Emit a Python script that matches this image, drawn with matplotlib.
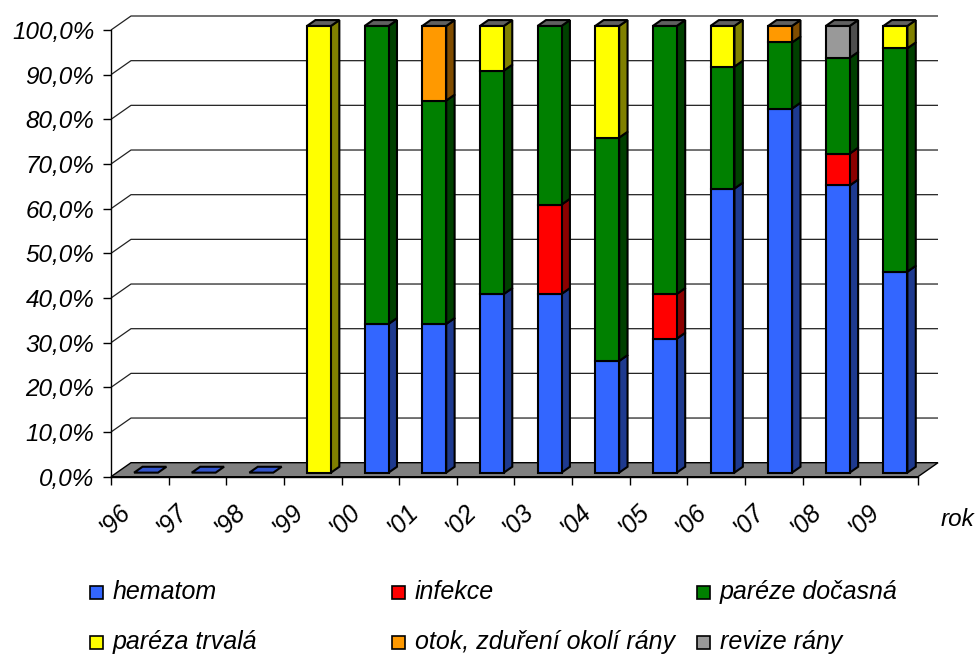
import matplotlib
matplotlib.use("Agg")
import matplotlib.pyplot as plt
from matplotlib.patches import Polygon, Rectangle
from matplotlib.transforms import offset_copy

plt.rcParams['font.family'] = ['Liberation Sans', 'DejaVu Sans']
plt.rcParams['font.style'] = 'italic'

# --- data (share of complications per year, %) ---
years = ["'96", "'97", "'98", "'99", "'00", "'01", "'02", "'03", "'04",
         "'05", "'06", "'07", "'08", "'09"]
series_names = ['hematom', 'infekce', 'paréze dočasná', 'paréza trvalá',
                'otok, zduření okolí rány', 'revize rány']
hematom = [0, 0, 0, 0, 33.3, 33.3, 40, 40, 25, 30, 63.6, 81.5, 64.29, 45]
infekce = [0, 0, 0, 0, 0, 0, 0, 20, 0, 10, 0, 0, 7.14, 0]
pareze_docasna = [0, 0, 0, 0, 66.7, 50, 50, 40, 50, 60, 27.3, 14.8, 21.43, 50]
pareza_trvala = [0, 0, 0, 100, 0, 0, 10, 0, 25, 0, 9.1, 0, 0, 5]
otok = [0, 0, 0, 0, 0, 16.7, 0, 0, 0, 0, 0, 3.7, 0, 0]
revize = [0, 0, 0, 0, 0, 0, 0, 0, 0, 0, 0, 0, 7.14, 0]
series = [hematom, infekce, pareze_docasna, pareza_trvala, otok, revize]
y_ticks = list(range(0, 101, 10))

# --- styling ---
face_colors = ['#3366FF', '#FF0000', '#008000', '#FFFF00', '#FF9900', '#999999']
side_colors = ['#1E3A8F', '#8B0000', '#004000', '#808000', '#804C00', '#4D4D4D']
top_color = '#606060'
empty_top_color = '#3355CC'
edge = '#000000'

W, H = 979, 654
fig = plt.figure(figsize=(W / 100, H / 100), dpi=100)
fig.patch.set_facecolor('white')

# front plane of the plot in pixels
px_left, px_right, px_bottom, px_top = 111, 918, 476.7, 30
ax = fig.add_axes([px_left / W, (H - px_bottom) / H,
                   (px_right - px_left) / W, (px_bottom - px_top) / H])
n = len(years)
ax.set_xlim(0, n)
ax.set_ylim(0, 100)
ax.patch.set_visible(False)

# oblique depth of the floor, in data units
ddx = 20 / ((px_right - px_left) / n)
ddy = 14 / ((px_bottom - px_top) / 100)


def proj(x, v, d):
    return (x + d * ddx, v + d * ddy)


# back wall gridlines with their diagonal connectors
for v in y_ticks[1:]:
    ax.plot([0, ddx, n + ddx], [v, v + ddy, v + ddy], color='#222222',
            lw=0.9, clip_on=False, zorder=0.5, solid_capstyle='butt')

# floor
floor = Polygon([proj(0, 0, 0), proj(n, 0, 0), proj(n, 0, 1), proj(0, 0, 1)],
                closed=True, facecolor='#808080', edgecolor=edge, lw=1.0,
                clip_on=False, zorder=1)
ax.add_patch(floor)

# stacked 3D columns
f0, f1 = 0.29, 0.71
bx0, bx1 = 0.30, 0.715
for i in range(n):
    x0, x1 = i + bx0, i + bx1
    bottom = 0.0
    for s, vals in enumerate(series):
        val = vals[i]
        if val <= 0:
            continue
        top = bottom + val
        front = Polygon([proj(x0, bottom, f0), proj(x1, bottom, f0),
                         proj(x1, top, f0), proj(x0, top, f0)], closed=True,
                        facecolor=face_colors[s], edgecolor=edge, lw=1.5,
                        joinstyle='miter', clip_on=False, zorder=3)
        side = Polygon([proj(x1, bottom, f0), proj(x1, bottom, f1),
                        proj(x1, top, f1), proj(x1, top, f0)], closed=True,
                       facecolor=side_colors[s], edgecolor=edge, lw=1.5,
                       joinstyle='miter', clip_on=False, zorder=3)
        ax.add_patch(side)
        ax.add_patch(front)
        bottom = top
    cap = Polygon([proj(x0, bottom, f0), proj(x1, bottom, f0),
                   proj(x1, bottom, f1), proj(x0, bottom, f1)], closed=True,
                  facecolor=top_color if bottom > 0 else empty_top_color,
                  edgecolor=edge, lw=1.5, joinstyle='miter', clip_on=False,
                  zorder=3)
    ax.add_patch(cap)

# axes
for side_name in ('top', 'right'):
    ax.spines[side_name].set_visible(False)
ax.spines['left'].set_linewidth(1.0)
ax.spines['bottom'].set_linewidth(1.0)
ax.spines['left'].set_zorder(4)
ax.spines['bottom'].set_zorder(4)
ax.set_yticks(y_ticks)
ax.set_yticklabels([f"{v:.1f}".replace('.', ',') + '%' for v in y_ticks],
                   fontsize=17.5, style='italic')
ax.tick_params(axis='y', direction='out', length=5.5, width=1, pad=6.5)
ax.set_xticks(range(n + 1))
ax.set_xticklabels([])
ax.tick_params(axis='x', direction='out', length=6, width=1)

label_tf = offset_copy(ax.transData, fig=fig, x=-22, y=-23, units='dots')
for i, lab in enumerate(years):
    ax.text(i + 0.5, 0, lab, transform=label_tf, rotation=45,
            rotation_mode='anchor', ha='right', va='top', fontsize=18,
            style='italic')

fig.text(957 / W, 1 - 520 / H, 'rok', ha='center', va='center', fontsize=17.5,
         style='italic')

# legend, three columns by two rows
leg_cols = [90, 392, 697]
leg_rows = [592, 642]
for k, name in enumerate(series_names):
    cx = leg_cols[k % 3]
    cy = leg_rows[k // 3]
    fig.patches.append(Rectangle(((cx) / W, 1 - (cy + 6.5) / H), 13 / W, 13 / H,
                                 transform=fig.transFigure,
                                 facecolor=face_colors[k], edgecolor=edge,
                                 lw=1.2))
    fig.text((cx + 23) / W, 1 - cy / H, name, ha='left', va='center',
             fontsize=18, style='italic')

fig.savefig('out.png', dpi=100)
